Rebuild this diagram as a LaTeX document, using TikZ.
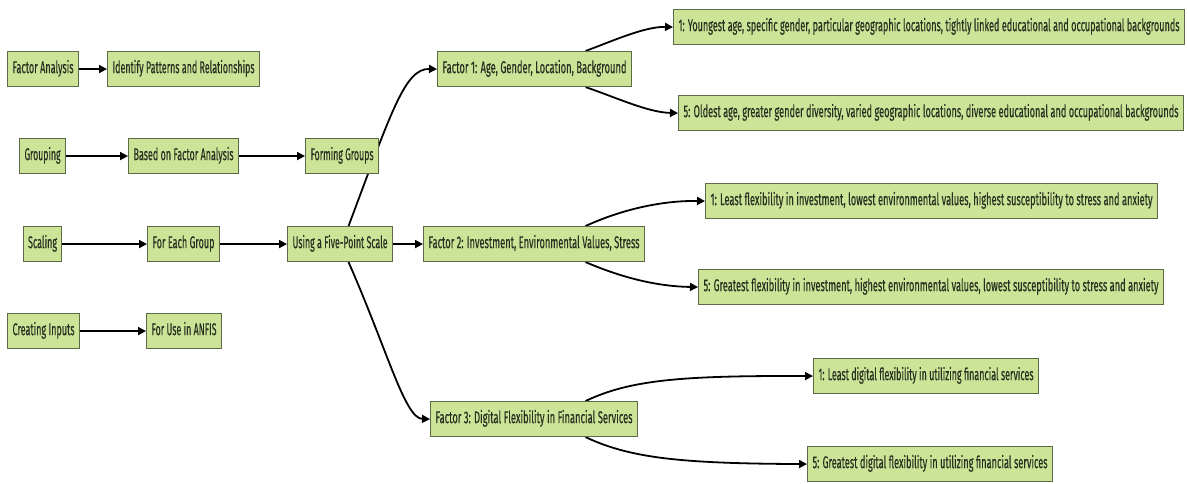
\documentclass[tikz,border=0pt]{standalone}
\usepackage{fontspec}
\setmainfont{Fira Sans}
\newfontfamily\boxfont[FakeBold=0.5]{Fira Sans}
\usetikzlibrary{arrows.meta,backgrounds}
\definecolor{boxfill}{HTML}{CDE498}
\definecolor{boxline}{HTML}{5B6B45}
\definecolor{txt}{HTML}{263020}
\newcommand{\fitw}[2]{\resizebox{#1}{\height}{#2}}
\tikzset{
  box/.style={draw=boxline, fill=boxfill, line width=1.1pt, inner sep=0pt,
    minimum height=35pt, anchor=north west, text=txt,
    font=\boxfont\fontsize{17}{17}\selectfont, text height=12pt, text depth=3.8pt},
  edge/.style={draw=black, line width=1.8pt, -{Triangle[length=8pt,width=8pt]}}
}
\begin{document}
\begin{tikzpicture}[x=1pt,y=-1pt]
\useasboundingbox (0,0) rectangle (1188,483);
% left column
\node[box, minimum width=71pt]  (fa) at (7,51)   {\fitw{61pt}{Factor Analysis}};
\node[box, minimum width=152pt] (ip) at (107,51) {\fitw{142pt}{Identify Patterns and Relationships}};
\node[box, minimum width=46pt]  (gr) at (19,138) {\fitw{36pt}{Grouping}};
\node[box, minimum width=110pt] (bf) at (128,138) {\fitw{100pt}{Based on Factor Analysis}};
\node[box, minimum width=73pt]  (fg) at (305,138) {\fitw{63pt}{Forming Groups}};
\node[box, minimum width=38pt]  (sc) at (23,226) {\fitw{29pt}{Scaling}};
\node[box, minimum width=72pt]  (fe) at (147,226) {\fitw{62pt}{For Each Group}};
\node[box, minimum width=105pt] (us) at (287,226) {\fitw{95pt}{Using a Five-Point Scale}};
\node[box, minimum width=72pt]  (ci) at (7,313) {\fitw{62pt}{Creating Inputs}};
\node[box, minimum width=75pt]  (fu) at (146,313) {\fitw{65pt}{For Use in ANFIS}};
% factors
\node[box, minimum width=194pt] (f1) at (437,51)  {\fitw{184pt}{Factor 1: Age, Gender, Location, Background}};
\node[box, minimum width=221pt] (f2) at (423,226) {\fitw{211pt}{Factor 2: Investment, Environmental Values, Stress}};
\node[box, minimum width=207pt] (f3) at (430,401) {\fitw{197pt}{Factor 3: Digital Flexibility in Financial Services}};
% outcomes
\node[box, minimum width=511pt] (a1) at (673,9)   {\fitw{501pt}{1: Youngest age, specific gender, particular geographic locations, tightly linked educational and occupational backgrounds}};
\node[box, minimum width=505pt] (a5) at (678,95)  {\fitw{495pt}{5: Oldest age, greater gender diversity, varied geographic locations, diverse educational and occupational backgrounds}};
\node[box, minimum width=452pt] (b1) at (705,183) {\fitw{442pt}{1: Least flexibility in investment, lowest environmental values, highest susceptibility to stress and anxiety}};
\node[box, minimum width=465pt] (b5) at (698,269) {\fitw{455pt}{5: Greatest flexibility in investment, highest environmental values, lowest susceptibility to stress and anxiety}};
\node[box, minimum width=225pt] (c1) at (813,358) {\fitw{215pt}{1: Least digital flexibility in utilizing financial services}};
\node[box, minimum width=245pt] (c5) at (807,446) {\fitw{235pt}{5: Greatest digital flexibility in utilizing financial services}};
\begin{scope}[on background layer]
\fill[white] (0,0) rectangle (1188,483);
\draw[edge] (fa.east) -- (ip.west);
\draw[edge] (gr.east) -- (bf.west);
\draw[edge] (bf.east) -- (fg.west);
\draw[edge] (sc.east) -- (fe.west);
\draw[edge] (fe.east) -- (us.west);
\draw[edge] (ci.east) -- (fu.west);
\draw[edge] (us.east) -- (f2.west);
\draw[edge] ([xshift=8.5pt]us.north) .. controls (392,110) and (405,68.5) .. (f1.west);
\draw[edge] ([xshift=8.5pt]us.south) .. controls (388,352) and (405,418.5) .. (f3.west);
\draw[edge] ([xshift=51pt]f1.north) .. controls (615,40) and (645,26.5) .. (a1.west);
\draw[edge] ([xshift=51pt]f1.south) .. controls (615,97) and (648,112.5) .. (a5.west);
\draw[edge] ([xshift=51.5pt]f2.north) .. controls (625,208) and (665,200.5) .. (b1.west);
\draw[edge] ([xshift=51.5pt]f2.south) .. controls (625,279) and (660,286.5) .. (b5.west);
\draw[edge] ([xshift=51.5pt]f3.north) .. controls (630,380) and (680,375.5) .. (c1.west);
\draw[edge] ([xshift=51.5pt]f3.south) .. controls (630,458) and (680,463.5) .. (c5.west);
\end{scope}
\end{tikzpicture}
\end{document}
